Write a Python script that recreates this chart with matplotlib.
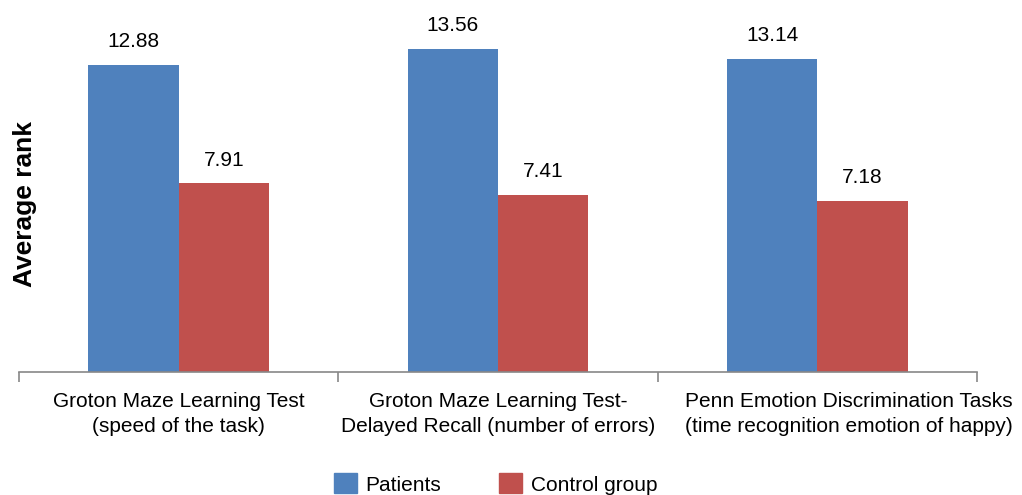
import numpy as np
import matplotlib.pyplot as plt
from matplotlib.patches import Patch

plt.rcParams['font.family'] = ['Liberation Sans', 'DejaVu Sans']

categories = ["Groton Maze Learning Test\n(speed of the task)",
              "Groton Maze Learning Test-\nDelayed Recall (number of errors)",
              "Penn Emotion Discrimination Tasks\n(time recognition emotion of happy)"]
patients = [12.88, 13.56, 13.14]
control = [7.91, 7.41, 7.18]

blue = "#4F81BD"
red = "#C0504D"

fig = plt.figure(figsize=(10.22, 4.95), dpi=100)
# axis line at y=372 px, 19..977 px wide
ax = fig.add_axes([19 / 1022, 123 / 495, 958 / 1022, 357.6 / 495])

x = np.arange(len(categories))
w = 0.283
ax.bar(x - w / 2, patients, w, color=blue)
ax.bar(x + w / 2, control, w, color=red)

for xi, v in zip(x - w / 2, patients):
    ax.text(xi, v + 0.75, f"{v:.2f}", ha="center", va="baseline", fontsize=15)
for xi, v in zip(x + w / 2, control):
    ax.text(xi, v + 0.75, f"{v:.2f}", ha="center", va="baseline", fontsize=15)

ax.set_xlim(-0.5, 2.5)
ax.set_ylim(0, 15)
ax.set_yticks([])
for s in ["top", "right", "left"]:
    ax.spines[s].set_visible(False)
ax.spines["bottom"].set_color("#888888")
ax.spines["bottom"].set_linewidth(1.2)
ax.set_xticks([-0.5, 0.5, 1.5, 2.5])
ax.set_xticklabels([])
ax.tick_params(axis="x", length=7, width=1.2, color="#888888")
# last label is pushed right so it doesn't run into the middle one
label_x = [0, 1, 2.1]
for xi, lab in zip(label_x, categories):
    ax.text(xi, -0.85, lab, ha="center", va="top", fontsize=15, linespacing=1.38)

fig.text(25 / 1022, 1 - 204 / 495, "Average rank", rotation=90, ha="center", va="center",
         fontsize=19, fontweight="bold")

handles = [Patch(color=blue), Patch(color=red)]
fig.legend(handles, ["Patients", "Control group"], loc="center",
           bbox_to_anchor=(495.5 / 1022, 1 - 484 / 495),
           ncol=2, frameon=False, fontsize=15, handlelength=1.1, handleheight=1.1,
           columnspacing=2.75, handletextpad=0.43, borderpad=0)

fig.savefig("out.png", dpi=100)
